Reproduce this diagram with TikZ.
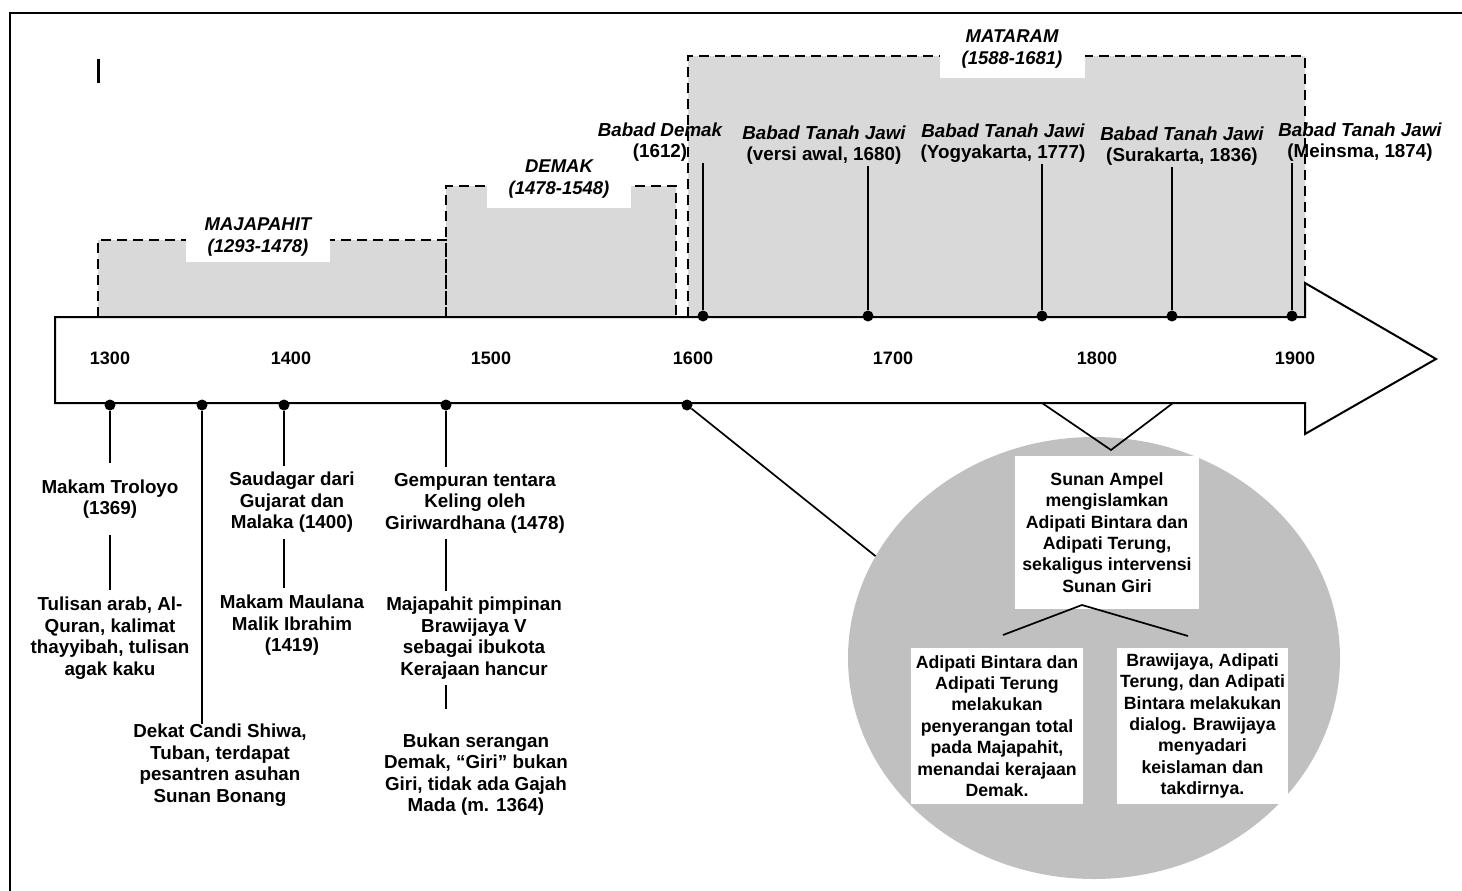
\documentclass[tikz,border=0pt]{standalone}
\usepackage{fontspec}
\setmainfont{Liberation Sans}
\usetikzlibrary{shapes.geometric}
\definecolor{boxgray}{RGB}{217,217,217}
\definecolor{ellgray}{RGB}{192,192,192}
\begin{document}
\begin{tikzpicture}[x=1pt,y=-1pt,
 base/.style={font=\fontsize{18.8}{21.5}\selectfont\bfseries, align=center, inner xsep=2pt},
 toplbl/.style={base, inner sep=1pt},
 eralbl/.style={font=\fontsize{18.5}{22}\selectfont\bfseries\itshape, align=center, fill=white, inner sep=0pt},
 yearlbl/.style={font=\fontsize{18}{21}\selectfont\bfseries, inner sep=0pt},
 elltxt/.style={font=\fontsize{17.7}{21.4}\selectfont\bfseries, align=center, fill=white, inner sep=0pt},
 conn/.style={line width=1.7pt},
 dotc/.style={circle, fill=black, minimum size=11pt, inner sep=0pt},
 era/.style={draw=black, line width=2pt, dash pattern=on 10pt off 6pt},
 frameline/.style={line width=2.5pt},
]
\useasboundingbox (0,0) rectangle (1462,891);

% outer frame
\draw[frameline] (10,891) -- (10,13) -- (1462,13);
% cursor bar
\draw[line width=3pt] (98.5,59) -- (98.5,83);

% era boxes
\fill[boxgray] (98,240) rectangle (446,317);
\fill[boxgray] (446,186) rectangle (676,317);
\fill[boxgray] (688,56) rectangle (1305,317);
\draw[era] (98,317) -- (98,240) -- (446,240) -- (446,317);
\draw[era] (446,317) -- (446,186) -- (676,186) -- (676,317);
\draw[era] (688,317) -- (688,56) -- (1305,56) -- (1305,283);

% era labels
\node[eralbl, minimum width=144pt, minimum height=50pt] (lmaj) at (258,237) {MAJAPAHIT\\(1293-1478)};
\node[eralbl, minimum width=144pt, minimum height=57pt] (ldem) at (559,179) {DEMAK\\(1478-1548)};
\node[eralbl, minimum width=145pt, minimum height=58pt] (lmat) at (1012,49) {MATARAM\\(1588-1681)};

% timeline arrow
\draw[line width=2pt, fill=white] (55,317) -- (1305,317) -- (1305,283) -- (1436,359)
  -- (1305,434) -- (1305,403) -- (55,403) -- cycle;

% years
\node[yearlbl] (y13) at (110,358) {1300};
\node[yearlbl] (y14) at (291,358) {1400};
\node[yearlbl] (y15) at (491,358) {1500};
\node[yearlbl] (y16) at (693,358) {1600};
\node[yearlbl] (y17) at (893,358) {1700};
\node[yearlbl] (y18) at (1097,358) {1800};
\node[yearlbl] (y19) at (1295,358) {1900};

% top sources
\node[toplbl] (bt0) at (660,142) {{\itshape Babad Demak}\\(1612)};
\node[toplbl] (bt1) at (824,145) {{\itshape Babad Tanah Jawi}\\(versi awal, 1680)};
\node[toplbl] (bt2) at (1003,143) {{\itshape Babad Tanah Jawi}\\(Yogyakarta, 1777)};
\node[toplbl] (bt3) at (1182,146) {{\itshape Babad Tanah Jawi}\\(Surakarta, 1836)};
\node[toplbl] (bt4) at (1360,142) {{\itshape Babad Tanah Jawi}\\(Meinsma, 1874)};

\node[dotc] (dt0) at (703,316) {};
\node[dotc] (dt1) at (868,316) {};
\node[dotc] (dt2) at (1042,316) {};
\node[dotc] (dt3) at (1172,316) {};
\node[dotc] (dt4) at (1292,316) {};
\foreach \i in {0,...,4} {\draw[conn] (dt\i) -- (dt\i |- bt\i.south);}

% bottom events
\node[dotc] (db1) at (110,405) {};
\node[dotc] (db2) at (202,405) {};
\node[dotc] (db3) at (284,405) {};
\node[dotc] (db4) at (446,405) {};
\node[dotc] (db5) at (687,405) {};

\node[base, inner ysep=16pt] (n1) at (110,499) {Makam Troloyo\\(1369)};
\node[base, inner ysep=6.5pt] (n2) at (110,638) {Tulisan arab, Al-\\Quran, kalimat\\thayyibah, tulisan\\agak kaku};
\node[base, inner ysep=0pt] (n3) at (220,765) {Dekat Candi Shiwa,\\Tuban, terdapat\\pesantren asuhan\\Sunan Bonang};
\node[base, inner ysep=6pt] (n4) at (292,502.5) {Saudagar dari\\Gujarat dan\\Malaka (1400)};
\node[base, inner ysep=7pt] (n5) at (292,625.5) {Makam Maulana\\Malik Ibrahim\\(1419)};
\node[base, inner ysep=6pt] (n6) at (475,503) {Gempuran tentara\\Keling oleh\\Giriwardhana (1478)};
\node[base, inner ysep=6pt] (n7) at (474,638) {Majapahit pimpinan\\Brawijaya V\\sebagai ibukota\\Kerajaan hancur};
\node[base, inner ysep=24pt] (n8) at (476,774.5) {Bukan serangan\\Demak, “Giri” bukan\\Giri, tidak ada Gajah\\Mada (m. 1364)};

\draw[conn] (db1) -- (db1 |- n1.north);
\draw[conn] (db1 |- n1.south) -- (db1 |- n2.north);
\draw[conn] (db2) -- (db2 |- n3.north);
\draw[conn] (db3) -- (db3 |- n4.north);
\draw[conn] (db3 |- n4.south) -- (db3 |- n5.north);
\draw[conn] (db4) -- (db4 |- n6.north);
\draw[conn] (db4 |- n6.south) -- (db4 |- n7.north);
\draw[conn] (db4 |- n7.south) -- (db4 |- n8.north);

% ellipse detail
\node[ellipse, fill=ellgray, minimum width=492pt, minimum height=442pt, inner sep=0pt] (ell) at (1094,658) {};
\draw[conn] (db5) -- (ell.155);

\coordinate (va) at (1042,403);
\coordinate (vb) at (1173,403);
\coordinate (vapex) at (1111,450);
\draw[conn] (va) -- (vapex) -- (vb);

\node[elltxt, minimum width=184pt, minimum height=153pt] (sa) at (1107,532.5)
  {Sunan Ampel\\mengislamkan\\Adipati Bintara dan\\Adipati Terung,\\sekaligus intervensi\\Sunan Giri};
\node[elltxt, minimum width=172pt, minimum height=156pt] (lb) at (997,726)
  {Adipati Bintara dan\\Adipati Terung\\melakukan\\penyerangan total\\pada Majapahit,\\menandai kerajaan\\Demak.};
\node[elltxt, minimum width=171pt, minimum height=156pt] (rb) at (1202.5,726)
  {Brawijaya, Adipati\\Terung, dan Adipati\\Bintara melakukan\\dialog. Brawijaya\\menyadari\\keislaman dan\\takdirnya.};

\coordinate (bapex) at (1082,605);
\coordinate (bl) at (1003,635);
\coordinate (br) at (1188,636);
\draw[conn] (bl) -- (bapex) -- (br);
\end{tikzpicture}
\end{document}
